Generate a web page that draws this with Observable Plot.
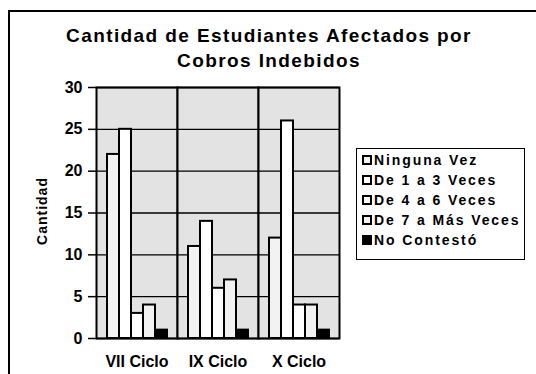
<!DOCTYPE html>
<html>
<head>
<meta charset="utf-8">
<script src="https://cdn.jsdelivr.net/npm/d3@7"></script>
<script src="https://cdn.jsdelivr.net/npm/@observablehq/plot@0.6"></script>
<style>
  html, body { margin: 0; padding: 0; background: #fff; }
  #wrap { position: relative; width: 536px; height: 374px; overflow: hidden; font-family: "Liberation Sans", Arial, sans-serif; }
  #border { position: absolute; left: 8px; top: 10px; width: 540px; height: 380px; border-left: 2px solid #000; border-top: 2px solid #000; box-sizing: border-box; }
  #title { position: absolute; left: 0; top: 23px; width: 538px; text-align: center; font-weight: bold; font-size: 19px; line-height: 25px; letter-spacing: 1.4px; color: #000; }
  #ylabel { position: absolute; left: 42px; top: 211px; transform: translate(-50%, -50%) rotate(-90deg); font-weight: bold; font-size: 14px; letter-spacing: 1px; white-space: nowrap; }
  #legend { position: absolute; left: 356px; top: 148px; width: 169px; height: 112px; border: 1.5px solid #000; box-sizing: border-box; padding: 1px 0 0 5px; background: #fff; }
  .item { display: flex; align-items: center; height: 20px; font-weight: bold; font-size: 14px; letter-spacing: 1.9px; white-space: nowrap; }
  .sw { width: 10px; height: 10px; border: 2px solid #000; box-sizing: border-box; margin-right: 2px; flex: none; }
  #chart { position: absolute; left: 0; top: 0; }
</style>
</head>
<body>
<div id="wrap">
  <div id="border"></div>
  <div id="chart"></div>
  <div id="title">Cantidad de Estudiantes Afectados por<br>Cobros Indebidos</div>
  <div id="ylabel">Cantidad</div>
  <div id="legend"></div>
</div>
<script>
const cycles = ["VII Ciclo", "IX Ciclo", "X Ciclo"];
const series = ["Ninguna Vez", "De 1 a 3 Veces", "De 4 a 6 Veces", "De 7 a Más Veces", "No Contestó"];
const valuesVII = [22, 25, 3, 4, 1];
const valuesIX = [11, 14, 6, 7, 1];
const valuesX = [12, 26, 4, 4, 1];
const fills = ["#f2f2f2", "#ffffff", "#ffffff", "#f2f2f2", "#000000"];
const yTicks = [0, 5, 10, 15, 20, 25, 30];

const byCycle = [valuesVII, valuesIX, valuesX];
const data = [];
cycles.forEach((c, i) => series.forEach((s, j) => data.push({cycle: c, series: s, value: byCycle[i][j]})));

const chart = Plot.plot({
  width: 536,
  height: 374,
  marginLeft: 95,
  marginRight: 196,
  marginTop: 87,
  marginBottom: 36,
  style: {fontFamily: "'Liberation Sans', Arial, sans-serif", fontWeight: "bold", fontSize: "16px", color: "#000", background: "transparent"},
  fx: {domain: cycles, padding: 0, label: null, axis: null},
  x: {domain: series, axis: null, paddingInner: 0, paddingOuter: 0.64},
  y: {domain: [0, 30], ticks: yTicks, label: null, axis: null},
  color: {domain: series, range: fills},
  marks: [
    Plot.frame({fill: "#e3e3e3", stroke: "#000", strokeWidth: 2}),
    Plot.gridY(yTicks, {stroke: "#000", strokeOpacity: 1, strokeWidth: 1.3}),
    Plot.barY(data, {fx: "cycle", x: "series", y: "value", fill: "series", stroke: "#000", strokeWidth: 2}),
    Plot.axisY({ticks: yTicks, tickSize: 8, tickPadding: 6, strokeWidth: 1.5, label: null, fontSize: 16, fontWeight: "bold"}),
    Plot.axisFx({anchor: "bottom", tickSize: 0, tickPadding: 17, label: null, fontSize: 16, fontWeight: "bold"})
  ]
});
document.getElementById("chart").appendChild(chart);

const legend = document.getElementById("legend");
series.forEach((s, j) => {
  const it = document.createElement("div");
  it.className = "item";
  const sw = document.createElement("span");
  sw.className = "sw";
  sw.style.background = fills[j];
  it.appendChild(sw);
  it.appendChild(document.createTextNode(s));
  legend.appendChild(it);
});
</script>
</body>
</html>
